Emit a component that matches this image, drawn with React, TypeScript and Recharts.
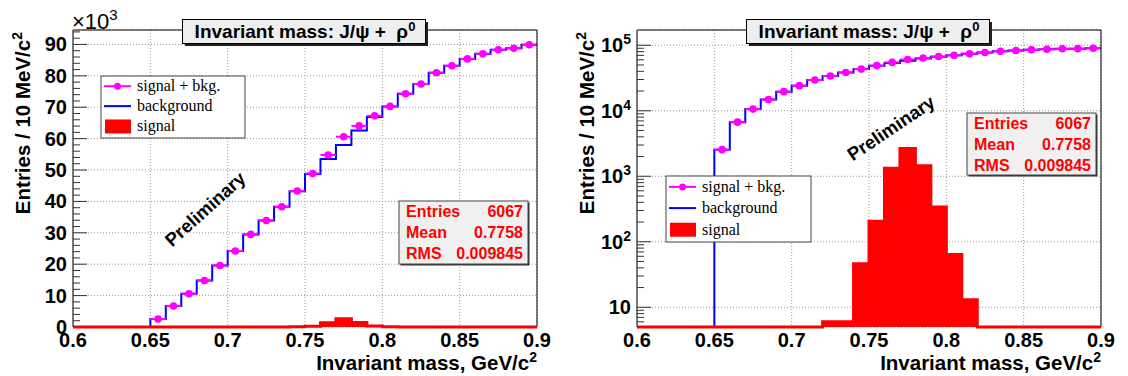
import {
  ComposedChart,
  Line,
  Area,
  Scatter,
  ErrorBar,
  XAxis,
  YAxis,
  CartesianGrid,
} from "recharts";

// bins of 10 MeV/c^2 (lower edges)
const binLow = [
  0.6, 0.61, 0.62, 0.63, 0.64, 0.65, 0.66, 0.67, 0.68, 0.69, 0.7, 0.71, 0.72,
  0.73, 0.74, 0.75, 0.76, 0.77, 0.78, 0.79, 0.8, 0.81, 0.82, 0.83, 0.84, 0.85,
  0.86, 0.87, 0.88, 0.89,
];
const binEnd = 0.9;
const binHalf = 0.005;

const bkgCounts = [
  0, 0, 0, 0, 0, 2550, 6700, 10600, 14800, 19600, 24200, 29500, 33900, 38300,
  43250, 48700, 53500, 58000, 62600, 66900, 70200, 74300, 77400, 81000, 83200,
  85400, 87000, 88300, 88800, 89900,
];
const signalCounts = [
  0, 0, 0, 0, 0, 0, 0, 0, 0, 0, 0, 0, 6, 6, 46, 206, 1330, 2650, 1450, 339, 64,
  13, 0, 0, 0, 0, 0, 0, 0, 0,
];
const totalCounts = [
  null, null, null, null, null, 2550, 6700, 10600, 14800, 19600, 24200, 29500,
  33900, 38300, 43300, 48900, 54800, 60600, 64050, 67250, 70260, 74310, 77400,
  81000, 83200, 85400, 87000, 88300, 88800, 89900,
];

const xMajor = [0.6, 0.65, 0.7, 0.75, 0.8, 0.85, 0.9];
const yLinMajor = [0, 10000, 20000, 30000, 40000, 50000, 60000, 70000, 80000, 90000];
const yLinMinor = [
  2000, 4000, 6000, 8000, 12000, 14000, 16000, 18000, 22000, 24000, 26000,
  28000, 32000, 34000, 36000, 38000, 42000, 44000, 46000, 48000, 52000, 54000,
  56000, 58000, 62000, 64000, 66000, 68000, 72000, 74000, 76000, 78000, 82000,
  84000, 86000, 88000, 92000, 94000,
];
const yLogMajor = [10, 100, 1000, 10000, 100000];
const yLogMinor = [
  5, 6, 7, 8, 9, 20, 30, 40, 50, 60, 70, 80, 90, 200, 300, 400, 500, 600, 700,
  800, 900, 2000, 3000, 4000, 5000, 6000, 7000, 8000, 9000, 20000, 30000, 40000,
  50000, 60000, 70000, 80000, 90000,
];

const legendLabels = ["signal + bkg.", "background", "signal"];
const statsNames = ["Entries", "Mean", "RMS"];
const statsValues = ["6067", "0.7758", "0.009845"];

const SANS = '"Liberation Sans", Arial, Helvetica, sans-serif';
const SERIF = '"Liberation Serif", "Times New Roman", serif';
const W = 564;
const H = 376;
const THIN = 0.01; // axes need a non-zero size to render
const LIN_DOMAIN = [0, 94600];
const LOG_DOMAIN = [5, 171000];

function stepRows(counts: number[], floor: number) {
  const rows = binLow.map((x, i) => ({ x, y: Math.max(counts[i], floor) }));
  rows.push({ x: binEnd, y: Math.max(counts[counts.length - 1], floor) });
  return rows;
}

const pointRows = binLow
  .map((x, i) => ({ x: x + binHalf, y: totalCounts[i], xe: binHalf }))
  .filter((r) => r.y !== null);

// tick marks only, no label
const NoLabel = () => <g />;

const XTick = (p: any) => (
  <text x={p.x} y={p.y} dy={14} textAnchor="middle" fontFamily={SANS} fontWeight="bold" fontSize={20} fill="#000">
    {String(p.payload.value)}
  </text>
);

const LinYTick = (p: any) => (
  <text x={p.x} y={p.y} dy={7} textAnchor="end" fontFamily={SANS} fontWeight="bold" fontSize={20} fill="#000">
    {String(p.payload.value / 1000)}
  </text>
);

const LogYTick = (p: any) => {
  const e = Math.round(Math.log10(p.payload.value));
  return (
    <text x={p.x} y={p.y} dy={7} textAnchor="end" fontFamily={SANS} fontWeight="bold" fontSize={20} fill="#000">
      10
      {e > 1 && (
        <tspan dy={-8} fontSize={14}>
          {e}
        </tspan>
      )}
    </text>
  );
};

function Overlay({ cfg, showExp }: { cfg: any; showExp: boolean }) {
  const L = cfg.legend;
  const S = cfg.stats;
  const rows = [0.165, 0.486, 0.814].map((f) => L.y + L.h * f);
  const bold = { fontFamily: SANS, fontWeight: "bold" as const };
  return (
    <svg width={W} height={H} style={{ position: "absolute", left: 0, top: 0, pointerEvents: "none" }}>
      {/* title */}
      <rect x={185} y={22} width={243} height={24} fill="#222" />
      <rect x={182.5} y={19.5} width={243} height={24} fill="#eeeeee" stroke="#000" />
      <text x={305} y={38} textAnchor="middle" {...bold} fontSize={19} style={{ whiteSpace: "pre" }}>
        {"Invariant mass: J/\u03c8 +  \u03c1"}
        <tspan dy={-7} fontSize={13}>0</tspan>
      </text>

      {showExp && (
        <text x={72} y={28.5} fontFamily={SANS} fontSize={22} fill="#000">
          {"\u00d710"}
          <tspan dy={-9} fontSize={15}>3</tspan>
        </text>
      )}

      {/* axis titles */}
      <text transform="rotate(-90 30 32)" x={30} y={32} textAnchor="end" {...bold} fontSize={20.5}>
        Entries / 10 MeV/c
        <tspan dy={-8} fontSize={14}>2</tspan>
      </text>
      <text x={537} y={370} textAnchor="end" {...bold} fontSize={20.5}>
        Invariant mass, GeV/c
        <tspan dy={-8} fontSize={14}>2</tspan>
      </text>

      <text
        transform={`rotate(${cfg.prelim.a} ${cfg.prelim.cx} ${cfg.prelim.cy})`}
        x={cfg.prelim.cx}
        y={cfg.prelim.cy}
        textAnchor="middle"
        dominantBaseline="central"
        {...bold}
        fontSize={18.5}
      >
        Preliminary
      </text>

      {/* legend */}
      <rect x={L.x} y={L.y} width={L.w} height={L.h} fill="#fff" stroke="#444" />
      <line x1={L.x + 3} x2={L.x + 30} y1={rows[0]} y2={rows[0]} stroke="#ff00ff" strokeWidth={2} />
      <circle cx={L.x + 16.5} cy={rows[0]} r={3.5} fill="#ff00ff" />
      <line x1={L.x + 3} x2={L.x + 30} y1={rows[1]} y2={rows[1]} stroke="#0000ff" strokeWidth={2} />
      <rect x={L.x + 4} y={rows[2] - 7} width={26} height={14} fill="#ff0000" />
      {legendLabels.map((t, i) => (
        <text key={t} x={L.x + 36} y={rows[i] + 5} fontFamily={SERIF} fontSize={16} fill="#000">
          {t}
        </text>
      ))}

      {/* stats box */}
      <rect x={S.x + 1.5} y={S.y + 1.5} width={S.w} height={S.h} fill="#333" />
      <rect x={S.x} y={S.y} width={S.w} height={S.h} fill="#f0f0f0" stroke="#444" />
      {statsNames.map((n, i) => (
        <g key={n}>
          <text x={S.x + 7} y={S.y + 16.4 + i * 21} {...bold} fontSize={16} fill="#ff0000">
            {n}
          </text>
          <text x={S.x + S.w - 5} y={S.y + 16.4 + i * 21} textAnchor="end" {...bold} fontSize={16} fill="#ff0000">
            {statsValues[i]}
          </text>
        </g>
      ))}
    </svg>
  );
}

function Panel({ log, left, cfg }: { log: boolean; left: number; cfg: any }) {
  const floor = log ? LOG_DOMAIN[0] : 0;
  const domain = log ? LOG_DOMAIN : LIN_DOMAIN;
  const scale = log ? "log" : "linear";
  const yMajor = log ? yLogMajor : yLinMajor;
  const yMinor = log ? yLogMinor : yLinMinor;
  const bkgRows = stepRows(bkgCounts, floor);
  const sigRows = stepRows(signalCounts, floor);
  return (
    <div style={{ position: "absolute", left, top: 0, width: W, height: H }}>
      <ComposedChart width={W} height={H} margin={{ top: 30, right: 27, bottom: 49, left: 73 }}>
        <CartesianGrid xAxisId="x" yAxisId="y" stroke="#999" strokeDasharray="1 2" />

        <XAxis
          xAxisId="x"
          dataKey="x"
          type="number"
          domain={[0.6, 0.9]}
          ticks={xMajor}
          interval={0}
          height={THIN}
          tickSize={0}
          tickMargin={6}
          tickLine={false}
          axisLine={false}
          tick={XTick}
        />
        <XAxis xAxisId="xmaj" type="number" domain={[0.6, 0.9]} allowDataOverflow ticks={xMajor} interval={0}
          height={THIN} mirror tickSize={10} tick={NoLabel} axisLine={false} stroke="#333" />
        <XAxis xAxisId="xmin" type="number" domain={[0.6, 0.9]} allowDataOverflow ticks={binLow} interval={0}
          height={THIN} mirror tickSize={5} tick={NoLabel} axisLine={false} stroke="#333" />
        <XAxis xAxisId="top" orientation="top" type="number" domain={[0.6, 0.9]} allowDataOverflow ticks={xMajor}
          interval={0} height={THIN} tick={NoLabel} tickLine={false} axisLine={{ stroke: "#000" }} />

        <YAxis
          yAxisId="y"
          dataKey="y"
          type="number"
          scale={scale}
          domain={domain}
          ticks={yMajor}
          interval={0}
          width={THIN}
          tickSize={0}
          tickMargin={6}
          tickLine={false}
          axisLine={false}
          tick={log ? LogYTick : LinYTick}
        />
        <YAxis yAxisId="ymaj" type="number" scale={scale} domain={domain} allowDataOverflow
          ticks={yMajor} interval={0} width={THIN} mirror tickSize={14} tick={NoLabel}
          axisLine={{ stroke: "#777", strokeWidth: 2 }} stroke="#333" />
        <YAxis yAxisId="ymin" type="number" scale={scale} domain={domain} allowDataOverflow
          ticks={yMinor} interval={0} width={THIN} mirror tickSize={7} tick={NoLabel}
          axisLine={false} stroke="#333" />
        <YAxis yAxisId="right" orientation="right" type="number" scale={scale} domain={domain} allowDataOverflow
          ticks={yMajor} interval={0} width={THIN} tick={NoLabel} tickLine={false} axisLine={{ stroke: "#000" }} />

        <Line
          xAxisId="x"
          yAxisId="y"
          data={bkgRows}
          dataKey="y"
          type="stepAfter"
          stroke="#0000ff"
          strokeWidth={2}
          dot={false}
          isAnimationActive={false}
        />
        <Scatter
          xAxisId="x"
          yAxisId="y"
          data={pointRows}
          dataKey="y"
          isAnimationActive={false}
          shape={(p: any) => <circle cx={p.cx} cy={p.cy} r={3.8} fill="#ff00ff" />}
        >
          <ErrorBar dataKey="xe" direction="x" width={0} stroke="#ff00ff" strokeWidth={2} />
        </Scatter>
        <Area
          xAxisId="x"
          yAxisId="y"
          data={sigRows}
          dataKey="y"
          type="stepAfter"
          stroke="#ff0000"
          strokeWidth={3}
          fill="#ff0000"
          fillOpacity={1}
          isAnimationActive={false}
          zIndex={700}
        />
      </ComposedChart>
      <Overlay cfg={cfg} showExp={!log} />
    </div>
  );
}

const leftCfg = {
  legend: { x: 101, y: 76, w: 144, h: 62 },
  stats: { x: 399, y: 201, w: 129, h: 63 },
  prelim: { cx: 205, cy: 209, a: -42 },
};
const rightCfg = {
  legend: { x: 102, y: 176, w: 145, h: 66 },
  stats: { x: 403, y: 113, w: 129, h: 62 },
  prelim: { cx: 327, cy: 128, a: -34 },
};

export default function App() {
  return (
    <div style={{ position: "fixed", left: 0, top: 0, width: 1128, height: 376, background: "#fff", overflow: "hidden" }}>
      <Panel log={false} left={0} cfg={leftCfg} />
      <Panel log={true} left={W} cfg={rightCfg} />
    </div>
  );
}
